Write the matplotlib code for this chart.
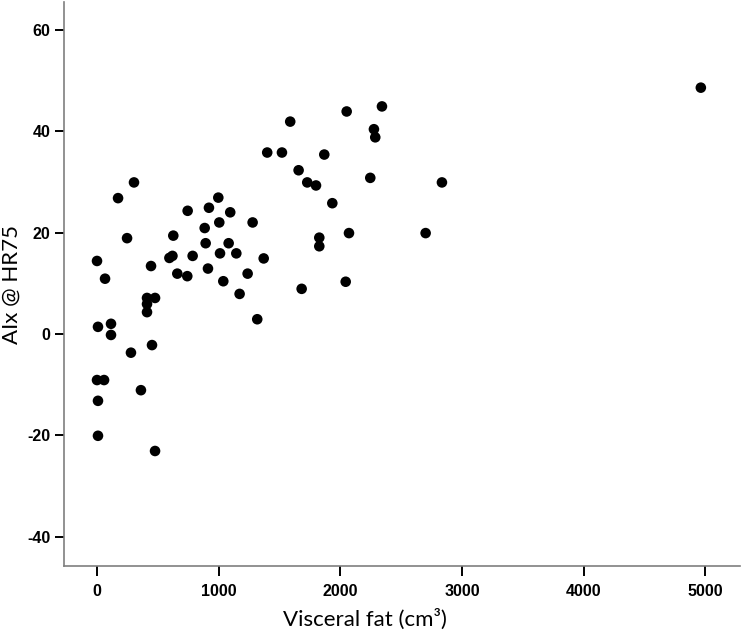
import matplotlib
matplotlib.use('Agg')
import matplotlib.pyplot as plt

plt.rcParams['axes.unicode_minus'] = False

# Visceral fat (cm3) vs AIx @ HR75
visceral_fat = [0, 66, 8, 115, 115, 0, 58, 8, 8, 279, 361, 452, 477,
                173, 304, 247, 444, 411, 411, 411, 477,
                997, 745, 920, 1095, 1005, 1279, 885, 627, 893, 1082,
                595, 620, 786, 1011, 1145, 1370, 912, 660, 742, 1238,
                1038, 1172, 1317,
                1588, 2052, 2342, 2276, 2287, 1399, 1520, 1868, 1657, 1728,
                1800, 2246, 2835, 1934, 1827, 1827, 2071, 2701, 1682, 2044,
                4963]
aix = [14.4, 10.9, 1.4, 2.0, -0.2, -9.1, -9.1, -13.2, -20.1, -3.7, -11.1, -2.2, -23.1,
       26.8, 29.9, 18.9, 13.4, 7.1, 5.9, 4.3, 7.1,
       26.9, 24.3, 24.9, 24.0, 22.0, 22.0, 20.9, 19.4, 17.9, 17.9,
       15.0, 15.4, 15.4, 15.9, 15.9, 14.9, 12.9, 11.9, 11.4, 11.9,
       10.4, 7.9, 2.9,
       41.9, 43.9, 44.9, 40.4, 38.8, 35.8, 35.8, 35.4, 32.3, 29.9,
       29.3, 30.8, 29.9, 25.8, 19.0, 17.3, 19.9, 19.9, 8.9, 10.3,
       48.6]

x_ticks = [0, 1000, 2000, 3000, 4000, 5000]
y_ticks = [-40, -20, 0, 20, 40, 60]

fig = plt.figure(figsize=(7.42, 6.32), dpi=100)
ax = fig.add_axes([0.0863, 0.1044, 0.9107, 0.8924])

ax.scatter(visceral_fat, aix, s=58, color='black', edgecolors='none', zorder=3)

ax.set_xlim(-271, 5283)
ax.set_ylim(-45.8, 65.5)
ax.set_xticks(x_ticks)
ax.set_yticks(y_ticks)

for side in ['top', 'right']:
    ax.spines[side].set_visible(False)
for side in ['left', 'bottom']:
    ax.spines[side].set_color('#7f7f7f')
    ax.spines[side].set_linewidth(1.2)

ax.tick_params(axis='x', direction='out', length=7.5, width=1.4, color='black',
               labelsize=11.5, pad=5.5)
ax.tick_params(axis='y', direction='out', length=6.5, width=1.4, color='black',
               labelsize=11.5, pad=3.5)
for lab in ax.get_xticklabels() + ax.get_yticklabels():
    lab.set_fontfamily('Liberation Sans')
    lab.set_fontweight('bold')

ax.set_xlabel('Visceral fat (cm³)', fontsize=16, family='Lato')
ax.set_ylabel('AIx @ HR75', fontsize=16, family='Lato')
ax.xaxis.set_label_coords(0.445, -0.076)
ax.yaxis.set_label_coords(-0.062, 0.5)

fig.savefig('out.png', dpi=100)
